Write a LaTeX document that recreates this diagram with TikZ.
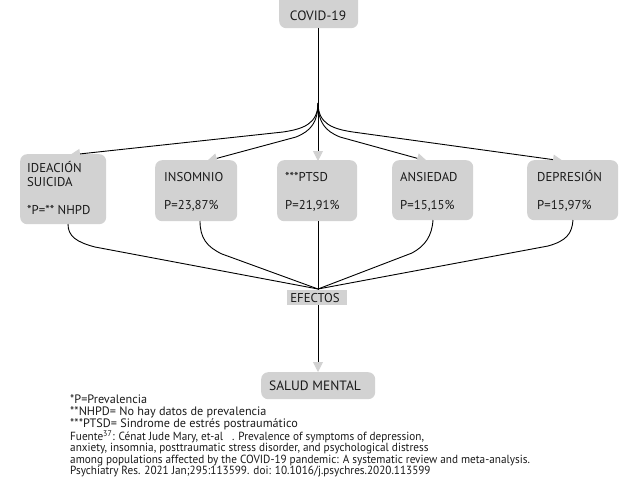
\documentclass[tikz,border=0pt]{standalone}
\usepackage{fontspec}
\setmainfont{PT Sans}
\newfontfamily\condfont[FakeStretch=0.95]{PT Sans}
\usetikzlibrary{arrows.meta}
\definecolor{boxgrey}{HTML}{D2D2D2}
\definecolor{tipgrey}{HTML}{D2D2D2}
\definecolor{txt}{HTML}{1A1A1A}
\begin{document}
\begin{tikzpicture}[x=1pt,y=-1pt,
  box/.style={fill=boxgrey, rounded corners=7pt, draw=none, inner sep=0pt, anchor=north west},
  lbl/.style={anchor=base west, inner sep=0pt, font=\fontsize{12.8}{14}\selectfont, text=txt},
  clbl/.style={anchor=base, inner sep=0pt, font=\fontsize{12.8}{14}\selectfont, text=txt},
  note/.style={anchor=base west, inner sep=0pt, text height=8.5pt, text depth=2.5pt, font=\fontsize{12.2}{12}\selectfont, text=txt},
  src/.style={anchor=base west, inner sep=0pt, text height=8pt, text depth=2.5pt, font=\condfont\fontsize{11.8}{11}\selectfont, text=txt},
  link/.style={draw=black, line width=0.9pt},
  tip/.style={-{Triangle[length=10pt,width=10pt,color=tipgrey]}}]
\useasboundingbox (0,0) rectangle (640,480);

% boxes
\node[box, minimum width=79pt, minimum height=38pt] (covid) at (279,-10) {};
\node[box, minimum width=86pt, minimum height=70pt] (ide) at (20,154) {};
\node[box, minimum width=82pt, minimum height=61pt] (ins) at (155,160) {};
\node[box, minimum width=80pt, minimum height=61pt] (pts) at (277,160) {};
\node[box, minimum width=81pt, minimum height=60pt] (ans) at (392,160) {};
\node[box, minimum width=91pt, minimum height=60pt] (dep) at (527,160) {};
\node[box, minimum width=114pt, minimum height=27pt] (sal) at (261,372) {};

% texts
\node[clbl, font=\fontsize{13.5}{14}\selectfont] (covid-t) at (318,20) {COVID-19};
\node[lbl] (ide-t1) at (27,172) {IDEACIÓN};
\node[lbl] (ide-t2) at (27,186) {SUICIDA};
\node[lbl] (ide-v) at (27,214) {*P=** NHPD};
\node[lbl] (ins-t) at (164,181) {INSOMNIO};
\node[lbl] (ins-v) at (164,209) {P=23,87\%};
\node[lbl] (pts-t) at (285,181) {***PTSD};
\node[lbl] (pts-v) at (285,209) {P=21,91\%};
\node[lbl] (ans-t) at (400,181) {ANSIEDAD};
\node[lbl] (ans-v) at (400,209) {P=15,15\%};
\node[lbl] (dep-t) at (537,181) {DEPRESIÓN};
\node[lbl] (dep-v) at (537,209) {P=15,97\%};
\node[clbl, font=\fontsize{13.5}{14}\selectfont] (sal-t) at (315,390) {SALUD MENTAL};

% coordinates
\coordinate (covid-b) at (318,28);
\coordinate (split) at (318,103);
\coordinate (ide-in) at (70,155);
\coordinate (ins-in) at (207,161);
\coordinate (pts-in) at (318,161);
\coordinate (ans-in) at (427,161);
\coordinate (dep-in) at (563,161);
\coordinate (ide-out) at (68,224);
\coordinate (ins-out) at (200,221);
\coordinate (pts-out) at (318,221);
\coordinate (ans-out) at (433,220);
\coordinate (dep-out) at (573,220);
\coordinate (conv) at (318,289);
\coordinate (sal-in) at (318,372);

% top fan
\draw[link] (covid-b) -- (split);
\draw[link, tip] (split) .. controls (318,124) and (303,129) .. (283,132) -- (ide-in);
\draw[link, tip] (split) .. controls (318,122) and (311,131) .. (296,137) -- (ins-in);
\draw[link, tip] (split) -- (pts-in);
\draw[link, tip] (split) .. controls (318,122) and (325,131) .. (340,137) -- (ans-in);
\draw[link, tip] (split) .. controls (318,124) and (333,129) .. (353,132) -- (dep-in);

% bottom fan
\draw[link] (ide-out) .. controls (68,236) and (76,242) .. (95,247) -- (conv);
\draw[link] (ins-out) .. controls (200,238) and (207,247) .. (222,254) -- (conv);
\draw[link] (ans-out) .. controls (432,236) and (425,246) .. (412,253) -- (conv);
\draw[link] (dep-out) .. controls (572,234) and (566,241) .. (548,246) -- (conv);
\draw[link] (pts-out) -- (conv);
\draw[link, tip] (conv) -- (sal-in);

\node[fill=boxgrey, inner sep=0pt, minimum width=60pt, minimum height=15pt] (efe) at (317,297) {};
\node[clbl] (efe-t) at (315,302.5) {EFECTOS};

% notes
\node[note] (n1) at (70,403) {*P=Prevalencia};
\node[note] (n2) at (70,415) {**NHPD= No hay datos de prevalencia};
\node[note] (n3) at (70,427) {***PTSD= Sindrome de estrés postraumático};
\node[src] (s1) at (70,440.5) {Fuente\textsuperscript{37}: Cénat Jude Mary, et-al\ \ \ . Prevalence of symptoms of depression,};
\node[src] (s2) at (70,451.8) {anxiety, insomnia, posttraumatic stress disorder, and psychological distress};
\node[src] (s3) at (70,463.1) {among populations affected by the COVID-19 pandemic: A systematic review and meta-analysis.};
\node[src] (s4) at (70,474.4) {Psychiatry Res. 2021 Jan;295:113599. doi: 10.1016/j.psychres.2020.113599};
\end{tikzpicture}
\end{document}
